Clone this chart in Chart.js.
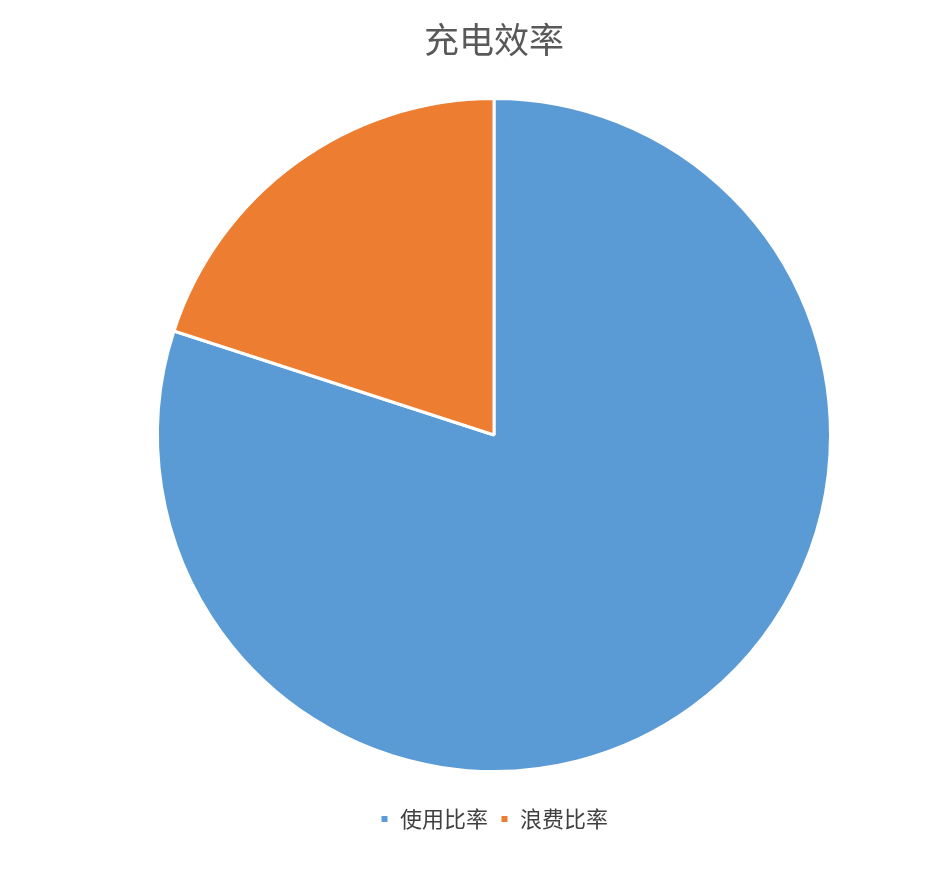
<!DOCTYPE html>
<html>
<head>
<meta charset="utf-8">
<script src="https://cdn.jsdelivr.net/npm/chart.js@4/dist/chart.umd.min.js"></script>
<style>
html,body{margin:0;padding:0;background:#fff;}
#wrap{width:942px;height:880px;}
</style>
</head>
<body>
<div id="wrap"><canvas id="c" width="942" height="880"></canvas></div>
<script>
const titleText = "充电效率";
const categories = ["使用比率", "浪费比率"];
const values = [80, 20];
const colors = ["#5B9BD5", "#ED7D31"];

Chart.defaults.font.family = "'Noto Sans CJK SC', 'Noto Sans', sans-serif";
Chart.defaults.color = "#595959";

new Chart(document.getElementById('c'), {
  type: 'pie',
  data: {
    labels: categories,
    datasets: [{
      data: values,
      backgroundColor: colors,
      borderColor: '#ffffff',
      borderWidth: 3
    }]
  },
  options: {
    responsive: false,
    animation: false,
    devicePixelRatio: 1,
    layout: { padding: { left: 46, right: 0, top: 0, bottom: 40 } },
    plugins: {
      title: {
        display: true,
        text: titleText,
        color: '#595959',
        font: { size: 35, weight: 'normal' },
        padding: { top: 19, bottom: 36 }
      },
      subtitle: {
        display: true,
        position: 'bottom',
        weight: 500,
        text: ' ',
        font: { size: 10 },
        padding: { top: 11, bottom: 0 }
      },
      legend: {
        position: 'bottom',
        labels: {
          boxWidth: 9,
          boxHeight: 9,
          font: { size: 22 },
          color: '#404040',
          padding: 12
        }
      },
      tooltip: { enabled: false }
    }
  }
});
</script>
</body>
</html>
